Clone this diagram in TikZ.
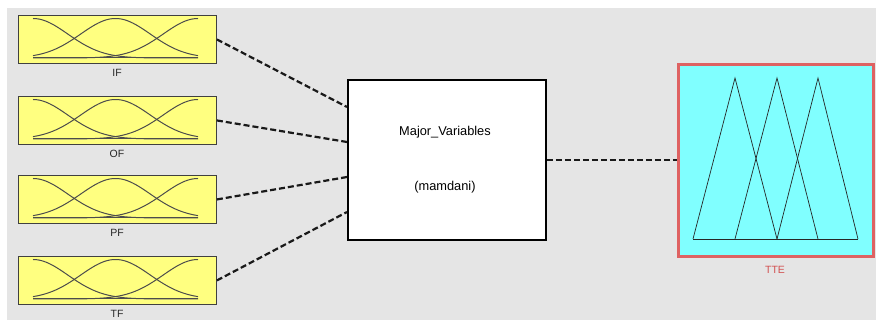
\documentclass[tikz,border=0pt]{standalone}
\usepackage{fontspec}
\setmainfont{Liberation Sans}
\begin{document}
\begin{tikzpicture}[x=1pt,y=-1pt,
  inbox/.style={draw=black!75, fill={rgb,255:red,255;green,255;blue,128}, line width=0.9pt, minimum width=198pt, minimum height=48pt, inner sep=0pt},
  lbl/.style={font=\fontsize{10.5}{12}\selectfont, text=black!85},
  conn/.style={line width=2.2pt, dash pattern=on 6pt off 3pt, black!90},
  mf/.style={line width=1pt, black!70},
  tri/.style={line width=0.7pt, black!85}]
\useasboundingbox (0,0) rectangle (876,320);
\fill[white] (0,0) rectangle (876,320);
\fill[gray!20] (7,8) rectangle (876,320);
% input boxes
\foreach \nm/\ty/\lb in {in1/15/IF, in2/96/OF, in3/175/PF, in4/256/TF}{
  \node[inbox, anchor=north west] (\nm) at (18,\ty) {};
  \node[lbl] (\nm lbl) at (117,\ty+58) {\lb};
  \draw[mf] (33,\ty+43) -- (198,\ty+43);
  \foreach \c in {33,115.5,198}{
    \draw[mf] plot[domain=33:198, samples=80, smooth] (\x, {\ty+43-39.5*exp(-0.5*((\x-\c)/34.8)^2)});
  }
}
% center box
\node[draw=black, fill=white, line width=1.8pt, minimum width=198pt, minimum height=160pt, inner sep=0pt, anchor=north west] (fis) at (347,79) {};
\node[font=\fontsize{12.8}{14}\selectfont] (t1) at (445,132) {Major\_Variables};
\node[font=\fontsize{12.8}{14}\selectfont] (t2) at (445,187) {(mamdani)};
% output box
\node[draw={rgb,255:red,222;green,98;blue,98}, fill={rgb,255:red,128;green,255;blue,255}, line width=3.2pt, minimum width=195pt, minimum height=192pt, inner sep=0pt, anchor=north west] (out) at (677,63) {};
\node[lbl, text={rgb,255:red,210;green,80;blue,80}] (outlbl) at (775,270) {TTE};
\draw[tri] (693,239) -- (858,239);
\draw[tri] (693,239) -- (735,78) -- (777,239);
\draw[tri] (735,239) -- (777,78) -- (818,239);
\draw[tri] (777,239) -- (818,78) -- (858,239);
% connectors
\coordinate (e1) at (347,107);
\coordinate (e2) at (347,142);
\coordinate (e3) at (347,177);
\coordinate (e4) at (347,212);
\draw[conn] (in1.east) -- (e1);
\draw[conn] (in2.east) -- (e2);
\draw[conn] (in3.east) -- (e3);
\draw[conn] (in4.east) -- (e4);
\draw[conn] (fis.east) -- (fis.east -| out.west);
\end{tikzpicture}
\end{document}
